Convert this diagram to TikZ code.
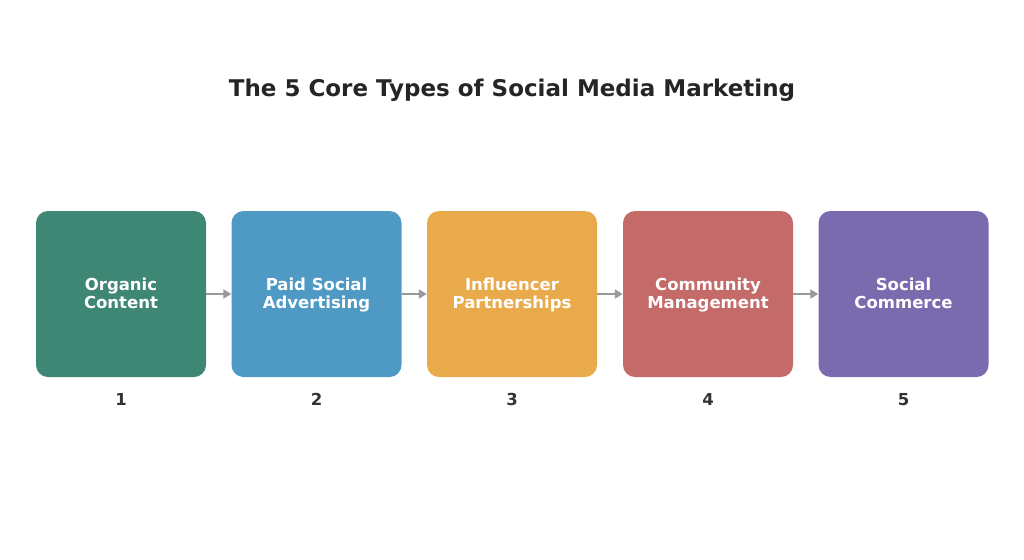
\documentclass[tikz,border=0pt]{standalone}
\usepackage{fontspec}
\setmainfont{DejaVu Sans}
\usetikzlibrary{arrows.meta}
\definecolor{cA}{HTML}{3E8775}
\definecolor{cB}{HTML}{4F9AC5}
\definecolor{cC}{HTML}{E9AA4B}
\definecolor{cD}{HTML}{C46A68}
\definecolor{cE}{HTML}{7A6BAF}
\definecolor{ink}{HTML}{252525}
\definecolor{num}{HTML}{333333}
\definecolor{arr}{HTML}{999999}
\newcommand{\topstrut}{\rule{0pt}{17pt}}
\begin{document}
\begin{tikzpicture}[x=1pt,y=-1pt,
  card/.style={rounded corners=12pt, minimum width=170pt, minimum height=166pt, inner sep=0pt,
    text=white, font=\fontsize{16.5}{18.5}\selectfont\bfseries, align=center},
  numlbl/.style={text=num, font=\fontsize{16.5}{19}\selectfont\bfseries, anchor=base},
  link/.style={draw=arr, line width=2.5pt, -{Triangle[length=8pt,width=9pt]}}]
\useasboundingbox (0,0) rectangle (1024,559);
\fill[white] (0,0) rectangle (1024,559);
\node[text=ink, font=\fontsize{23}{27}\selectfont\bfseries, anchor=base] (title) at (512,96) {The 5 Core Types of Social Media Marketing};
\node[card, fill=cA] (b1) at (121,294) {\topstrut Organic\\Content\strut};
\node[card, fill=cB] (b2) at (316.5,294) {\topstrut Paid Social\\Advertising\strut};
\node[card, fill=cC] (b3) at (512,294) {\topstrut Influencer\\Partnerships\strut};
\node[card, fill=cD] (b4) at (708,294) {\topstrut Community\\Management\strut};
\node[card, fill=cE] (b5) at (903.5,294) {\topstrut Social\\Commerce\strut};
\node[numlbl] (n1) at (121,405) {1};
\node[numlbl] (n2) at (316.5,405) {2};
\node[numlbl] (n3) at (512,405) {3};
\node[numlbl] (n4) at (708,405) {4};
\node[numlbl] (n5) at (903.5,405) {5};
\draw[link] (b1) -- (b2);
\draw[link] (b2) -- (b3);
\draw[link] (b3) -- (b4);
\draw[link] (b4) -- (b5);
\end{tikzpicture}
\end{document}
